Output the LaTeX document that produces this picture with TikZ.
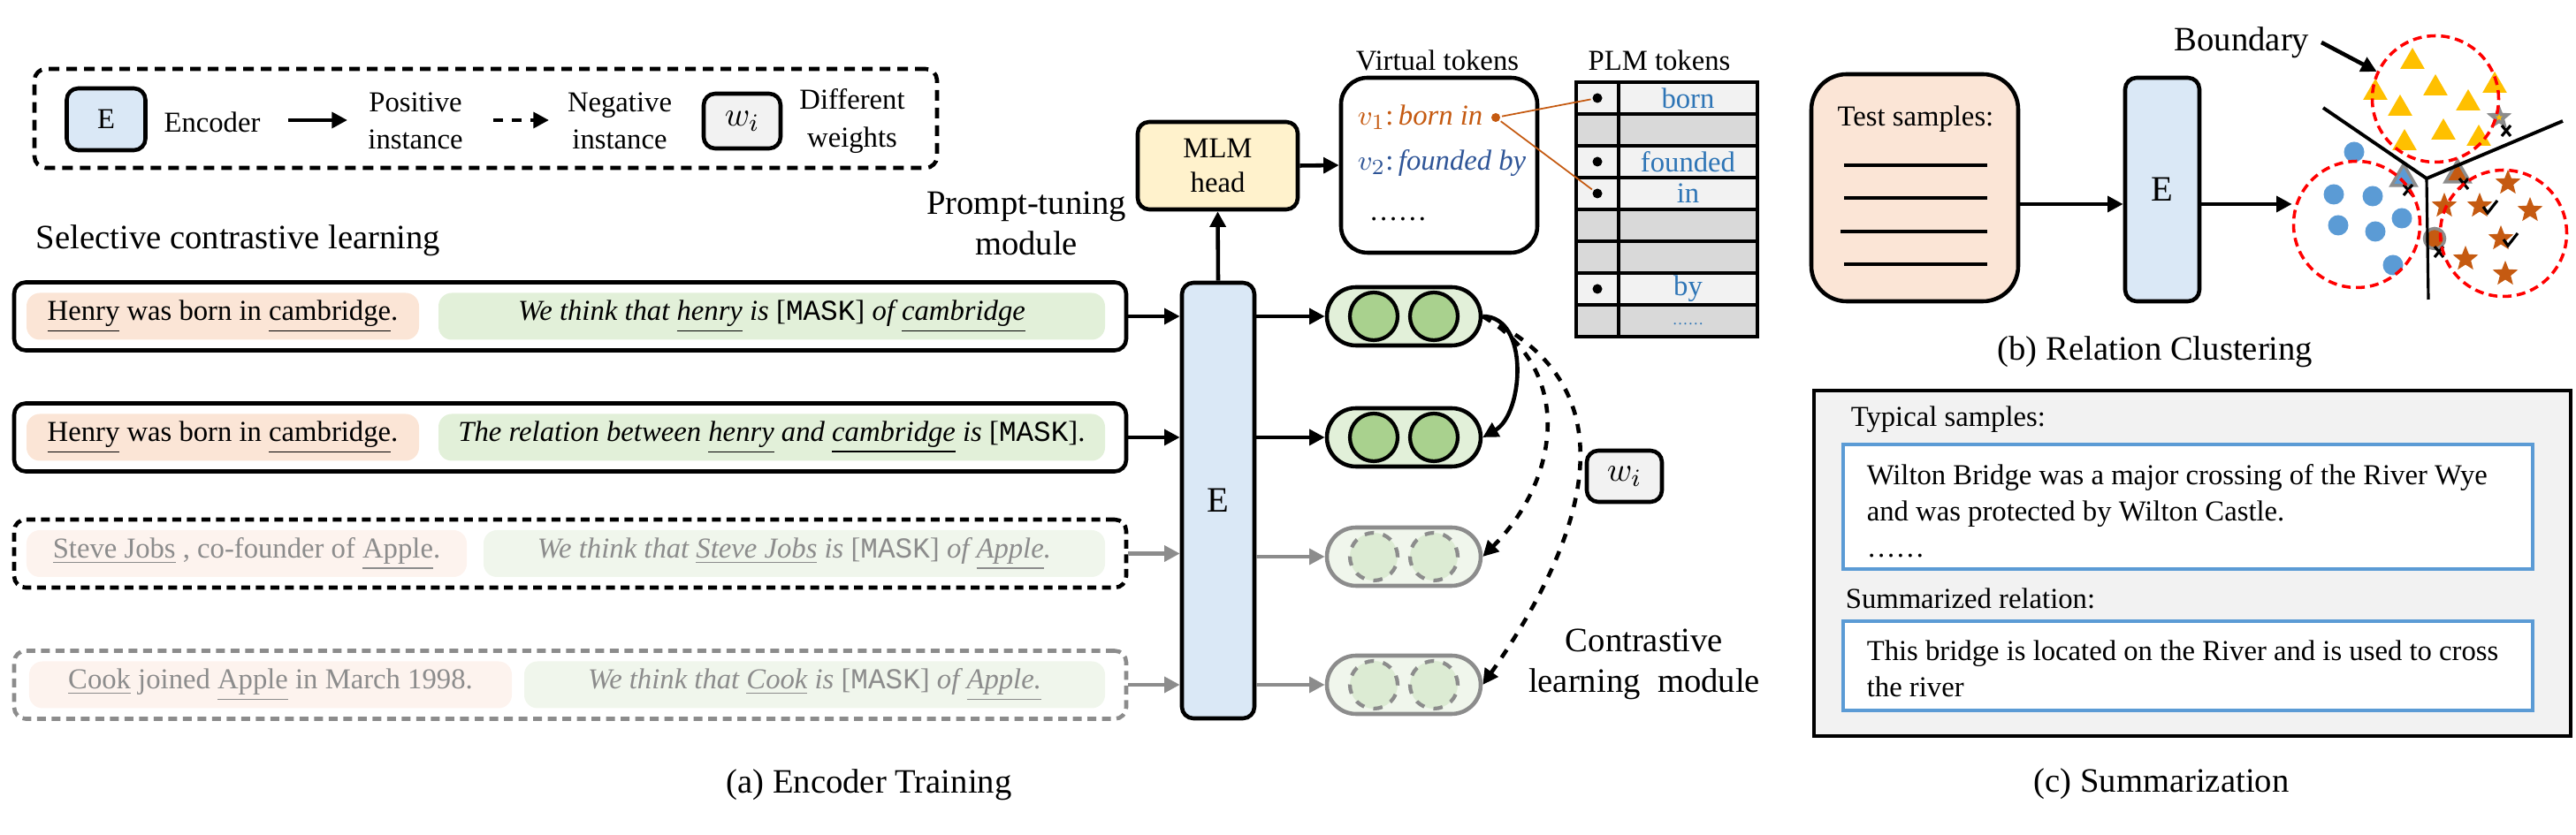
\documentclass[tikz,border=0pt]{standalone}
\usepackage{fontspec}
\setmainfont{Liberation Serif}
\setmonofont{Liberation Mono}
\usetikzlibrary{arrows.meta,shapes.geometric}

\definecolor{encblue}{HTML}{DAE8F6}
\definecolor{mlmyellow}{HTML}{FFF2CC}
\definecolor{sentpink}{HTML}{FBE5D6}
\definecolor{promptgreen}{HTML}{E2F0D9}
\definecolor{ballgreen}{HTML}{A9D18E}
\definecolor{fadepink}{HTML}{FDF3EE}
\definecolor{fadegreen}{HTML}{F0F6EC}
\definecolor{fadeball}{HTML}{DCEBD3}
\definecolor{fadetext}{HTML}{8C8C8C}
\definecolor{cellLight}{HTML}{F2F2F2}
\definecolor{cellDark}{HTML}{D9D9D9}
\definecolor{tokblue}{HTML}{2E75B6}
\definecolor{vorange}{HTML}{C55A11}
\definecolor{vblue}{HTML}{2F5597}
\definecolor{triyellow}{HTML}{FFC000}
\definecolor{ptblue}{HTML}{5B9BD5}
\definecolor{boundred}{HTML}{FF0000}

\newcommand{\smalltxt}{\fontsize{9.3}{12}\selectfont}
\newcommand{\bigtxt}{\fontsize{11}{13.3}\selectfont}
\newcommand{\masktok}{{\upshape[\texttt{MASK}]}}

\tikzset{
  arr/.style={-{Triangle[length=5pt,width=5pt]},line width=1.3pt},
  fadearr/.style={arr,draw=fadetext},
  rbox/.style={draw,rounded corners=0.13cm,line width=1.3pt},
  rowbox/.style={rbox,minimum width=12.58cm,minimum height=0.77cm},
  inbox/.style={rounded corners=0.15cm,minimum height=0.53cm,inner sep=0pt},
  pill/.style={draw,fill=promptgreen,rounded corners=0.33cm,minimum width=1.74cm,minimum height=0.66cm,line width=1.3pt},
  fadepill/.style={pill,draw=fadetext,fill=fadegreen},
  ball/.style={circle,draw,fill=ballgreen,minimum size=0.54cm,inner sep=0pt,line width=1.2pt},
  fadeball/.style={ball,dashed,draw=fadetext,fill=fadeball},
  tokcell/.style={draw,minimum height=0.36cm,inner sep=0pt,line width=1.2pt},
  tokdot/.style={circle,fill=black,minimum size=0.11cm,inner sep=0pt},
  tri/.style={regular polygon,regular polygon sides=3,fill=triyellow,minimum size=0.32cm,inner sep=0pt},
  starm/.style={star,star points=5,star point ratio=2.3,fill=vorange,minimum size=0.30cm,inner sep=0pt},
  bluept/.style={circle,fill=ptblue,minimum size=0.23cm,inner sep=0pt},
  cluster/.style={circle,draw=boundred,dash pattern=on 0.1cm off 0.06cm,line width=1pt,minimum size=1.43cm,inner sep=0pt},
}

\begin{document}
\begin{tikzpicture}[x=1cm,y=-1cm,font=\smalltxt,line width=1.2pt]
\useasboundingbox (0,0) rectangle (29.14,9.45);

% legend
\node[rbox,dash pattern=on 0.12cm off 0.08cm,minimum width=10.21cm,minimum height=1.12cm] (legend) at (5.495,1.34) {};
\node[rbox,fill=encblue,minimum width=0.89cm,minimum height=0.70cm] (lenc) at (1.20,1.35) {E};
\node (lenctxt) at (2.40,1.38) {Encoder};
\node[align=center] (lpos) at (4.70,1.37) {Positive\\instance};
\node[align=center] (lneg) at (7.01,1.37) {Negative\\instance};
\node[rbox,fill=cellLight,minimum width=0.87cm,minimum height=0.62cm,font=\bigtxt] (lw) at (8.395,1.37) {$w_i$};
\node[align=center] (lwtxt) at (9.64,1.37) {Different\\weights};
\coordinate (la1) at (3.26,1.36);
\coordinate (la2) at (3.93,1.36);
\coordinate (lb1) at (5.58,1.36);
\coordinate (lb2) at (6.21,1.36);
\draw[arr] (la1) -- (la2);
\draw[arr,dashed] (lb1) -- (lb2);

\node[anchor=west,font=\bigtxt] (sel) at (0.27,2.72) {Selective contrastive learning};

% sentence rows
\node[rowbox] (r1) at (6.45,3.58) {};
\node[inbox,fill=sentpink,minimum width=4.44cm] (s1) at (2.52,3.58) {\underline{Henry} was born in \underline{cambridge}.};
\node[inbox,fill=promptgreen,minimum width=7.54cm] (t1) at (8.73,3.58) {\textit{We think that \underline{henry} is \masktok{} of \underline{cambridge}}};

\node[rowbox] (r2) at (6.45,4.95) {};
\node[inbox,fill=sentpink,minimum width=4.44cm] (s2) at (2.52,4.95) {\underline{Henry} was born in \underline{cambridge}.};
\node[inbox,fill=promptgreen,minimum width=7.54cm] (t2) at (8.73,4.95) {\textit{The relation between \underline{henry} and \underline{cambridge} is} \masktok.};

\node[rowbox,dash pattern=on 0.1cm off 0.065cm] (r3) at (6.45,6.265) {};
\node[inbox,fill=fadepink,minimum width=4.98cm,text=fadetext] (s3) at (2.79,6.265) {\underline{Steve Jobs} , co-founder of \underline{Apple}.};
\node[inbox,fill=fadegreen,minimum width=7.03cm,text=fadetext] (t3) at (8.985,6.265) {\textit{We think that \underline{Steve Jobs} is \masktok{} of \underline{Apple}.}};

\node[rowbox,draw=fadetext,dash pattern=on 0.1cm off 0.065cm] (r4) at (6.45,7.75) {};
\node[inbox,fill=fadepink,minimum width=5.46cm,text=fadetext] (s4) at (3.06,7.75) {\underline{Cook} joined \underline{Apple} in March 1998.};
\node[inbox,fill=fadegreen,minimum width=6.57cm,text=fadetext] (t4) at (9.215,7.75) {\textit{We think that \underline{Cook} is \masktok{} of \underline{Apple.}}};

% encoder
\node[rbox,fill=encblue,minimum width=0.82cm,minimum height=4.93cm,font=\fontsize{11.5}{13}\selectfont] (enc) at (13.78,5.665) {E};

\draw[arr] (r1.east) -- (r1.east -| enc.west);
\draw[arr] (r2.east) -- (r2.east -| enc.west);
\draw[fadearr] (r3.east) -- (r3.east -| enc.west);
\draw[fadearr] (r4.east) -- (r4.east -| enc.west);

% representations
\node[pill] (p1) at (15.88,3.58) {};
\node[ball,xshift=-0.34cm] (p1a) at (p1) {};
\node[ball,xshift=0.34cm] (p1b) at (p1) {};
\node[pill] (p2) at (15.88,4.95) {};
\node[ball,xshift=-0.34cm] (p2a) at (p2) {};
\node[ball,xshift=0.34cm] (p2b) at (p2) {};
\node[fadepill] (p3) at (15.88,6.30) {};
\node[fadeball,xshift=-0.34cm] (p3a) at (p3) {};
\node[fadeball,xshift=0.34cm] (p3b) at (p3) {};
\node[fadepill] (p4) at (15.88,7.75) {};
\node[fadeball,xshift=-0.34cm] (p4a) at (p4) {};
\node[fadeball,xshift=0.34cm] (p4b) at (p4) {};

\draw[arr] (p1.west -| enc.east) -- (p1.west);
\draw[arr] (p2.west -| enc.east) -- (p2.west);
\draw[fadearr] (p3.west -| enc.east) -- (p3.west);
\draw[fadearr] (p4.west -| enc.east) -- (p4.west);

\draw[arr] (p1.east) to[out=0,in=30] (p2.east);
\draw[arr,dashed] (p1.east) to[out=-30,in=45,looseness=1.15] (p3.east);
\draw[arr,dashed] (p1.east) to[out=-25,in=55,looseness=1.2] (p4.east);

\node[rbox,fill=cellLight,minimum width=0.85cm,minimum height=0.58cm,font=\bigtxt] (wbox) at (18.375,5.39) {$w_i$};
\node[align=center,font=\bigtxt] (clm) at (18.60,7.52) {Contrastive\\learning~ module};

% prompt tuning
\node[align=center,font=\bigtxt] (ptm) at (11.61,2.53) {Prompt-tuning\\module};
\node[rbox,fill=mlmyellow,minimum width=1.81cm,minimum height=0.99cm,align=center,font=\fontsize{9.3}{11}\selectfont] (mlm) at (13.775,1.875) {MLM\\head};
\draw[arr] (enc.north) -- (mlm.south);

\node[rbox,rounded corners=0.3cm,minimum width=2.22cm,minimum height=1.98cm] (vt) at (16.28,1.87) {};
\node (vttitle) at (16.26,0.68) {Virtual tokens};
\draw[arr] (mlm.east) -- (vt.west);
\node[anchor=west,text=vorange] (v1) at (15.22,1.33) {$v_1$:\,\textit{born in}};
\node[anchor=west,text=vblue] (v2) at (15.22,1.85) {$v_2$:\,\textit{founded by}};
\node[anchor=west] (vmore) at (15.35,2.48) {\ldots\ldots};
\node[circle,fill=vorange,minimum size=0.1cm,inner sep=0pt] (vdot) at (16.92,1.33) {};

% PLM token table
\node (plmtitle) at (18.77,0.68) {PLM tokens};
\foreach \n/\y/\f/\t in {1/1.11/cellLight/born,2/1.47/cellDark/{},3/1.83/cellLight/founded,4/2.19/cellLight/in,5/2.55/cellDark/{},6/2.91/cellDark/{},7/3.27/cellLight/by,8/3.63/cellDark/{\raisebox{-0.6ex}{\tiny\ldots\ldots}}}{
  \node[tokcell,fill=\f,minimum width=0.48cm] (tl\n) at (18.07,\y) {};
  \node[tokcell,fill=\f,minimum width=1.57cm,text=tokblue] (tr\n) at (19.095,\y) {\t};
}
\node[tokdot] (dt1) at (tl1) {};
\node[tokdot] (dt3) at (tl3) {};
\node[tokdot] (dt4) at (tl4) {};
\node[tokdot] (dt7) at (tl7) {};
\draw[vorange,line width=0.5pt] (vdot) -- (dt1);
\draw[vorange,line width=0.5pt] (vdot) -- (dt4);

\node[font=\bigtxt] (capa) at (9.83,8.88) {(a) Encoder Training};

% (b) relation clustering
\node[rbox,rounded corners=0.4cm,fill=sentpink,minimum width=2.34cm,minimum height=2.57cm] (tsbox) at (21.66,2.125) {};
\node (tstxt) at (21.67,1.35) {Test samples:};
\draw (20.86,1.87) -- (22.48,1.87);
\draw (20.86,2.24) -- (22.48,2.24);
\draw (20.82,2.62) -- (22.48,2.62);
\draw (20.86,2.99) -- (22.48,2.99);
\node[rbox,fill=encblue,minimum width=0.84cm,minimum height=2.53cm,font=\fontsize{11.5}{13}\selectfont] (encb) at (24.46,2.145) {E};
\coordinate (mid) at (23.4,2.31);
\draw[arr] (tsbox.east |- mid) -- (encb.west |- mid);

\foreach \x/\y [count=\k] in {27.29/0.70,27.55/1.00,26.87/1.05,28.22/0.97,27.15/1.23,27.92/1.17,27.64/1.50,27.20/1.62,28.04/1.57}
  \node[tri] (tri\k) at (\x,\y) {};
\foreach \x/\y [count=\k] in {26.63/1.72,26.40/2.20,26.84/2.22,27.17/2.47,26.45/2.55,26.87/2.62,27.07/3.00}
  \node[bluept] (bp\k) at (\x,\y) {};
\foreach \x/\y [count=\k] in {28.37/2.07,27.65/2.33,28.05/2.33,28.62/2.38,28.29/2.70,27.89/2.93,28.34/3.10}
  \node[starm] (st\k) at (\x,\y) {};
\node[starm,fill=fadetext] (gst) at (28.27,1.33) {};
\node[star,star points=5,star point ratio=2.3,fill=triyellow,minimum size=0.08cm,inner sep=0pt] (gsty) at (28.27,1.33) {};
\node[tri,fill=ptblue,draw=fadetext,line width=1pt] (gtb) at (27.19,2.02) {};
\node[tri,fill=vorange,draw=fadetext,line width=1pt] (gto) at (27.80,1.98) {};
\node[bluept,fill=vorange,draw=fadetext,line width=1pt] (gco) at (27.54,2.70) {};
\foreach \x/\y in {28.35/1.48,27.24/2.15,27.87/2.08,27.59/2.85}
  \draw[line width=0.9pt] (\x-0.05,\y-0.06) -- (\x+0.05,\y+0.06) (\x-0.05,\y+0.06) -- (\x+0.05,\y-0.06);
\foreach \x/\y in {28.14/2.35,28.37/2.72}
  \draw[line width=0.9pt] (\x-0.05,\y-0.01) -- (\x,\y+0.06) -- (\x+0.11,\y-0.08);

\coordinate (jn) at (27.45,2.02);
\coordinate (bl1) at (26.28,1.22);
\coordinate (bl2) at (28.99,1.37);
\coordinate (bl3) at (27.47,3.39);
\draw[line width=1.1pt] (bl1) -- (jn) -- (bl2);
\draw[line width=0.9pt] (jn) -- (bl3);

\node[cluster] (clT) at (27.55,1.12) {};
\node[cluster] (clL) at (26.66,2.54) {};
\node[cluster] (clR) at (28.32,2.64) {};
\draw[arr] (encb.east |- mid) -- (mid -| clL.west);

\node[font=\bigtxt] (bnd) at (25.36,0.48) {Boundary};
\draw[arr] (bnd.east) -- (clT.155);

\node[font=\bigtxt] (capb) at (24.38,3.98) {(b) Relation Clustering};

% (c) summarization
\node[draw,fill=cellLight,line width=1.3pt,minimum width=8.56cm,minimum height=3.91cm] (sumbox) at (24.80,6.375) {};
\node[anchor=west] (typ) at (20.80,4.75) {Typical samples:};
\node[draw=ptblue,fill=white,line width=1.3pt,minimum width=7.80cm,minimum height=1.41cm] (sambox) at (24.75,5.735) {};
\node[anchor=west,align=left,font=\fontsize{9.3}{11.6}\selectfont] (samtxt) at (20.98,5.78) {Wilton Bridge was a major crossing of the River Wye\\and was protected by Wilton Castle.\\\ldots\ldots};
\node[anchor=west] (srel) at (20.74,6.77) {Summarized relation:};
\node[draw=ptblue,fill=white,line width=1.3pt,minimum width=7.80cm,minimum height=1.01cm] (relbox) at (24.75,7.535) {};
\node[anchor=west,align=left,font=\fontsize{9.3}{11.6}\selectfont] (reltxt) at (20.98,7.57) {This bridge is located on the River and is used to cross\\the river};

\node[font=\bigtxt] (capc) at (24.45,8.87) {(c) Summarization};

\end{tikzpicture}
\end{document}
